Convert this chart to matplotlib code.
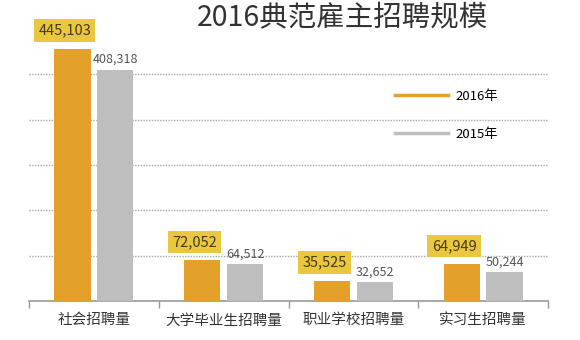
import matplotlib.pyplot as plt
import numpy as np
from matplotlib.lines import Line2D

plt.rcParams['font.family'] = ['Noto Sans CJK SC', 'DejaVu Sans']

# data
categories = ['社会招聘量', '大学毕业生招聘量', '职业学校招聘量', '实习生招聘量']
vals_2016 = [445103, 72052, 35525, 64949]
vals_2015 = [408318, 64512, 32652, 50244]
series_names = ['2016年', '2015年']
title = '2016典范雇主招聘规模'

c16 = '#E3A12B'
c15 = '#BEBEBE'
box_col = '#E9C73E'

fig = plt.figure(figsize=(5.8, 3.4), dpi=100)
ax = fig.add_axes([0.05, 0.115, 0.895, 0.80])

x = np.arange(len(categories))
w = 0.28
gap = 0.025
b16 = ax.bar(x - w / 2 - gap, vals_2016, w, color=c16, zorder=3)
b15 = ax.bar(x + w / 2 + gap, vals_2015, w, color=c15, zorder=3)

# value labels
for xi, v in zip(x, vals_2016):
    ax.annotate(f'{v:,}', (xi - w / 2 - gap - 0.06, v), xytext=(0, 8),
                textcoords='offset points', ha='center', va='bottom',
                fontsize=10.5, color='#4a3a10', zorder=5, annotation_clip=False,
                bbox=dict(boxstyle='square,pad=0.3', fc=box_col, ec='none'))
for xi, v in zip(x, vals_2015):
    ax.annotate(f'{v:,}', (xi + w / 2 + gap, v), xytext=(0, 3),
                textcoords='offset points', ha='center', va='bottom',
                fontsize=9, color='#555555', zorder=5)

ax.set_xlim(-0.5, len(categories) - 0.5)
ax.set_ylim(0, 480000)

# dotted gridlines
for gy in [80000, 160000, 240000, 320000, 400000]:
    ax.axhline(gy, color='#a8a8a8', lw=1.0, ls=(0, (1, 1)), zorder=1)

ax.set_yticks([])
ax.set_xticks(x)
ax.set_xticklabels(categories, fontsize=10.5, color='#333333')
ax.tick_params(axis='x', which='major', length=0, pad=9)
ax.set_xticks(np.arange(-0.5, len(categories)), minor=True)
ax.tick_params(axis='x', which='minor', length=5, color='#999999', width=1)
for s in ['top', 'right', 'left']:
    ax.spines[s].set_visible(False)
ax.spines['bottom'].set_color('#999999')
ax.spines['bottom'].set_linewidth(1.2)

fig.text(0.59, 0.947, title, ha='center', va='center', fontsize=20.5,
         color='#333333', fontweight='light')

handles = [Line2D([], [], color=c16, lw=2.5), Line2D([], [], color=c15, lw=2.5)]
fig.legend(handles, series_names, loc='upper left', bbox_to_anchor=(0.67, 0.755),
           frameon=False, handlelength=4.0, labelspacing=1.9, fontsize=9.5,
           handletextpad=0.6, borderpad=0)

plt.savefig('out.png', dpi=100)
